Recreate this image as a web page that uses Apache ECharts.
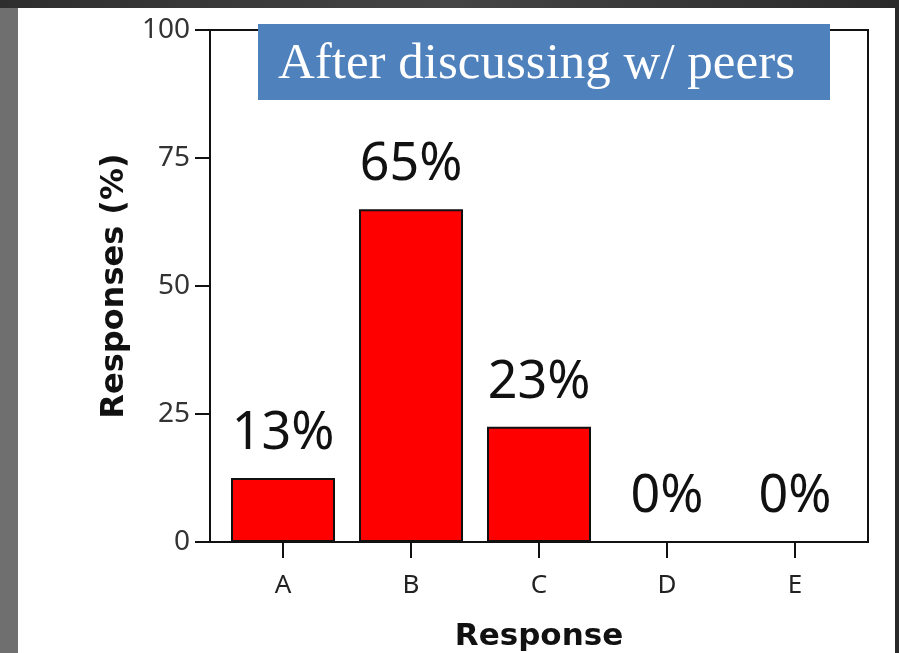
<!DOCTYPE html>
<html>
<head>
<meta charset="utf-8">
<script src="https://cdn.jsdelivr.net/npm/echarts@6/dist/echarts.min.js"></script>
<style>
html,body{margin:0;padding:0;background:#4a4a4a;}
#chart{width:899px;height:653px;}
</style>
</head>
<body>
<div id="chart"></div>
<script>
const categories = ['A', 'B', 'C', 'D', 'E'];
const responses = [12.5, 65, 22.5, 0, 0];
const barLabels = ['13%', '65%', '23%', '0%', '0%'];
const yTicks = [0, 25, 50, 75, 100];
const titleText = 'After discussing w/ peers';
const yName = 'Responses (%)';
const xName = 'Response';

const chart = echarts.init(document.getElementById('chart'), null, {renderer: 'canvas'});
const sans = '"Noto Sans", sans-serif';
const option = {
  backgroundColor: '#3a3a3a',
  animation: false,
  graphic: [
    {type: 'rect', z: -10, shape: {x: 0, y: 0, width: 899, height: 653}, style: {fill: new echarts.graphic.LinearGradient(0, 0, 1, 0, [{offset: 0, color: '#2e2e2e'}, {offset: 0.5, color: '#454545'}, {offset: 1, color: '#2a2a2a'}])}},
    {type: 'rect', z: -10, shape: {x: 0, y: 8, width: 18, height: 645}, style: {fill: '#6f6f6f'}},
    {type: 'rect', z: -10, shape: {x: 18, y: 8, width: 877, height: 645}, style: {fill: '#ffffff'}},
    {type: 'rect', z: 10, shape: {x: 258, y: 24, width: 572, height: 76}, style: {fill: '#4f81bd'}},
    {type: 'text', z: 11, style: {x: 278, y: 65, text: titleText, fill: '#ffffff', font: '51px "Liberation Serif", serif', textAlign: 'left', textVerticalAlign: 'middle'}}
  ],
  grid: [
    {left: 210, top: 30, width: 658, height: 512, show: true, borderColor: '#111', borderWidth: 2, backgroundColor: 'transparent', containLabel: false, outerBoundsMode: 'none'},
    {left: 219, top: 30, width: 640, height: 512, containLabel: false, outerBoundsMode: 'none'}
  ],
  xAxis: [
    {gridIndex: 0, type: 'value', show: false, min: 0, max: 1},
    {gridIndex: 1, type: 'category', data: categories, boundaryGap: true,
     axisLine: {show: false},
     axisTick: {show: true, alignWithLabel: true, length: 16, lineStyle: {color: '#111', width: 2}},
     axisLabel: {fontFamily: sans, fontSize: 26, color: '#222', margin: 31},
     name: xName, nameLocation: 'middle', nameGap: 79,
     nameTextStyle: {fontFamily: '"DejaVu Sans", sans-serif', fontWeight: 'bold', fontSize: 31, color: '#111'}}
  ],
  yAxis: [
    {gridIndex: 0, type: 'value', min: yTicks[0], max: yTicks[yTicks.length - 1], interval: 25,
     axisLine: {show: true, lineStyle: {color: '#111', width: 2}},
     axisTick: {show: true, length: 15, lineStyle: {color: '#111', width: 2}},
     axisLabel: {fontFamily: sans, fontSize: 28, color: '#333', margin: 20},
     splitLine: {show: false},
     name: yName, nameLocation: 'middle', nameGap: 70, nameRotate: 90,
     nameTextStyle: {fontFamily: '"DejaVu Sans", sans-serif', fontWeight: 'bold', fontSize: 32, color: '#111'}},
    {gridIndex: 1, type: 'value', min: 0, max: 100, show: false}
  ],
  series: [{
    type: 'bar', xAxisIndex: 1, yAxisIndex: 1, data: responses, barWidth: 104,
    itemStyle: {color: '#ff0000', borderColor: '#111', borderWidth: 2},
    label: {show: true, position: 'top', distance: 18, formatter: p => barLabels[p.dataIndex],
      fontFamily: sans, fontSize: 52, color: '#111'}
  }]
};
chart.setOption(option);
</script>
</body>
</html>
